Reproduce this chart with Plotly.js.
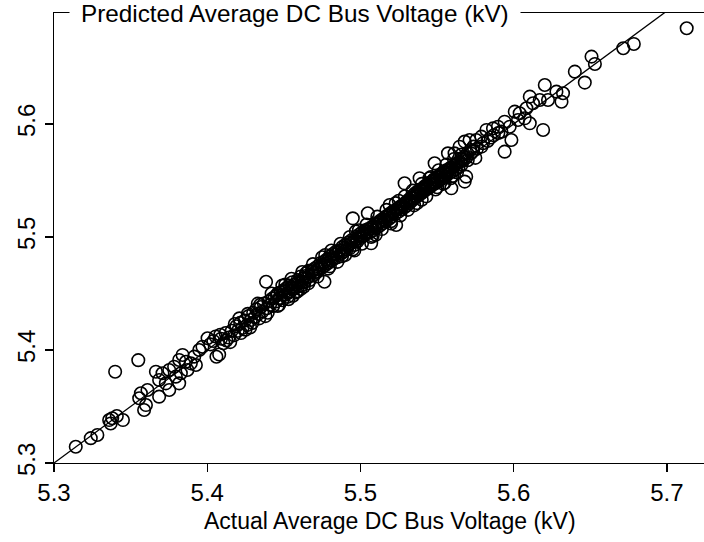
<!DOCTYPE html>
<html>
<head>
<meta charset="utf-8">
<script src="https://cdn.plot.ly/plotly-3.0.1.min.js"></script>
<style>html,body{margin:0;padding:0;background:#fff;}#chart{width:704px;height:542px;}</style>
</head>
<body>
<div id="chart"></div>
<script>
// Actual average DC bus voltage (kV)
const actual = [
5.3142,5.3240,5.3283,5.3370,5.3380,5.3410,5.3450,5.3360,5.3399,
5.3550,5.3567,5.3556,5.3600,5.3588,5.3610,5.3686,5.3665,5.3708,5.3752,5.3784,5.3817,5.3839,5.3861,5.3893,5.3915,5.3948,5.3969,5.4002,5.3686,5.3730,5.3795,5.3828,5.3871,5.3926,5.3752,5.3817,5.4060,
5.4020,5.4040,5.4055,5.4078,5.4090,5.4105,5.4120,5.4140,5.4160,5.4175,5.4190,5.4200,5.4215,5.4230,5.4245,5.4260,5.4270,5.4285,5.4300,5.4310,5.4320,5.4335,5.4350,5.4360,5.4370,5.4384,5.4390,5.4400,5.4410,5.4425,5.4430,5.4150,5.4250,5.4340,
5.4440,5.4450,5.4460,5.4470,5.4480,5.4490,5.4500,5.4510,5.4520,5.4525,5.4535,5.4545,5.4555,5.4560,5.4570,5.4580,5.4590,5.4600,5.4610,5.4615,5.4625,5.4635,5.4645,5.4650,5.4660,5.4670,5.4680,5.4690,5.4700,5.4470,5.4560,5.4630,
5.4710,5.4720,5.4730,5.4740,5.4750,5.4760,5.4765,5.4770,5.4780,5.4790,5.4800,5.4810,5.4820,5.4830,5.4840,5.4850,5.4860,5.4870,5.4880,5.4890,5.4900,5.4910,5.4920,5.4930,5.4940,5.4950,5.4960,5.4970,5.4980,5.4990,5.4800,5.4880,5.4950,
5.5000,5.5010,5.5020,5.5030,5.5040,5.5048,5.5050,5.5060,5.5070,5.5075,5.5085,5.5095,5.5105,5.5115,5.5125,5.5135,5.5145,5.5155,5.5165,5.5175,5.5190,5.5185,5.5195,5.5205,5.5215,5.5225,5.5233,5.5240,5.5250,5.5260,5.5270,5.5280,5.5288,5.5290,5.5100,5.5200,
5.5300,5.5305,5.5315,5.5320,5.5330,5.5335,5.5345,5.5350,5.5360,5.5365,5.5375,5.5380,5.5386,5.5390,5.5395,5.5405,5.5410,5.5420,5.5425,5.5435,5.5440,5.5450,5.5455,5.5465,5.5470,5.5480,5.5484,5.5490,5.5500,5.5505,5.5515,5.5520,5.5530,5.5535,5.5545,5.5550,5.5560,5.5565,5.5571,5.5575,5.5580,5.5590,5.5593,5.5600,5.5610,5.5614,5.5620,5.5630,5.5640,5.5647,5.5650,5.5660,5.5670,5.5680,5.5680,5.5690,5.5690,5.5700,5.5712,5.5400,5.5500,5.5600,
5.5722,5.5735,5.5756,5.5760,5.5789,5.5790,5.5800,5.5822,5.5830,5.5850,5.5865,5.5870,5.5897,5.5900,5.5920,5.5941,5.5941,5.5974,5.5985,5.5750,
5.6007,5.6028,5.6039,5.6072,5.6083,5.6105,5.6105,5.6126,5.6170,5.6192,5.6203,5.6224,5.6279,5.6312,5.6322,5.6399,5.6464,
5.6508,5.6530,5.6715,5.6784,5.7129,
5.4210,5.4280,5.4330,5.4380,5.4420,5.4460,5.4490,5.4530,5.4550,5.4590,5.4620,5.4660,5.4690,5.4720,5.4750,5.4790,5.4810,5.4850,5.4870,5.4900,5.4930,5.4960,5.4990,5.5010,5.5040,5.5080,5.5110,5.5140,5.5170,5.5200,5.5230,5.5260,5.5290,5.5310,5.5340,5.5370,5.5400,5.5430,5.5460,5.5490,5.5510,5.5540,5.5560,5.5590,5.5610,5.5630,5.5660,5.5250,5.5350,5.5450,5.5550,5.4970,5.5070,5.4770,5.4610,5.4510,
5.4455,5.4475,5.4505,5.4528,5.4548,5.4575,5.4595,5.4618,5.4640,5.4665,5.4685,5.4705,5.4725,5.4745,5.4772,5.4795,5.4815,5.4838,5.4858,5.4878,5.4898,5.4918,5.4938,5.4958,5.4978,5.5005,5.5025,5.5045,5.5068,5.5090,5.5112,5.5132,5.5152,5.5172,5.5192,5.5212,5.5232,5.5255,5.5275,5.5295,5.5318,5.5338,5.5358,5.5378,5.5398,5.5418,5.5438,5.5458,5.5478,5.5498,5.5518,5.5538,5.5558,5.5578,5.5598,5.5618,5.5638,5.5658,5.5678,5.5698,5.5718,5.5738,
5.4085,5.4125,5.4180,5.4220,5.4265,5.4295,5.4345,5.4395
];
// Predicted average DC bus voltage (kV)
const predicted = [
5.3144,5.3220,5.3248,5.3350,5.3396,5.3416,5.3380,5.3380,5.3808,
5.3910,5.3617,5.3573,5.3513,5.3469,5.3646,5.3587,5.3808,5.3794,5.3823,5.3852,5.3912,5.3956,5.3896,5.3882,5.3941,5.4000,5.4029,5.4104,5.3735,5.3705,5.3764,5.3794,5.3823,5.3867,5.3646,5.3705,5.3940,
5.4050,5.4080,5.4120,5.3960,5.4100,5.4060,5.4150,5.4110,5.4170,5.4130,5.4210,5.4170,5.4240,5.4195,5.4260,5.4220,5.4300,5.4265,5.4330,5.4290,5.4360,5.4320,5.4380,5.4340,5.4410,5.4604,5.4370,5.4430,5.4400,5.4455,5.4390,5.4070,5.4180,5.4280,
5.4470,5.4430,5.4500,5.4460,5.4510,5.4440,5.4530,5.4490,5.4550,5.4470,5.4570,5.4520,5.4600,5.4540,5.4580,5.4510,5.4620,5.4590,5.4650,5.4570,5.4630,5.4600,5.4680,5.4640,5.4700,5.4620,5.4690,5.4660,5.4720,5.4400,5.4480,5.4560,
5.4690,5.4740,5.4710,5.4770,5.4730,5.4780,5.4604,5.4750,5.4800,5.4770,5.4830,5.4790,5.4850,5.4810,5.4870,5.4820,5.4880,5.4850,5.4910,5.4870,5.4930,5.4890,5.4950,5.4900,5.4970,5.5165,5.4930,5.5000,5.4960,5.5020,5.4740,5.4830,5.4890,
5.4990,5.5040,5.5010,5.5060,5.5030,5.5210,5.5070,5.5040,5.4944,5.5090,5.5060,5.5110,5.5080,5.5130,5.5100,5.5150,5.5120,5.5170,5.5140,5.5190,5.5283,5.5160,5.5210,5.5180,5.5230,5.5200,5.5106,5.5250,5.5225,5.5270,5.5245,5.5290,5.5475,5.5265,5.5020,5.5140,
5.5310,5.5280,5.5330,5.5300,5.5350,5.5320,5.5370,5.5340,5.5390,5.5355,5.5400,5.5370,5.5520,5.5420,5.5385,5.5430,5.5400,5.5450,5.5415,5.5460,5.5430,5.5480,5.5445,5.5490,5.5460,5.5510,5.5652,5.5475,5.5530,5.5490,5.5545,5.5505,5.5560,5.5520,5.5575,5.5535,5.5590,5.5550,5.5740,5.5600,5.5565,5.5615,5.5431,5.5580,5.5630,5.5740,5.5600,5.5650,5.5620,5.5799,5.5665,5.5640,5.5680,5.5490,5.5844,5.5534,5.5700,5.5680,5.5858,5.5330,5.5440,5.5540,
5.5740,5.5760,5.5858,5.5780,5.5888,5.5800,5.5830,5.5947,5.5850,5.5880,5.5961,5.5900,5.5976,5.5920,5.5932,5.6020,5.5755,5.5976,5.5858,5.5700,
5.6109,5.6035,5.6095,5.6050,5.6139,5.6006,5.6242,5.6183,5.6212,5.5947,5.6345,5.6212,5.6286,5.6197,5.6272,5.6463,5.6366,
5.6596,5.6531,5.6670,5.6708,5.6847,
5.4280,5.4200,5.4410,5.4300,5.4500,5.4390,5.4570,5.4450,5.4630,5.4520,5.4690,5.4590,5.4760,5.4650,5.4820,5.4720,5.4880,5.4780,5.4940,5.4840,5.5000,5.4880,5.5060,5.4940,5.5110,5.5010,5.5180,5.5070,5.5240,5.5120,5.5300,5.5190,5.5360,5.5240,5.5410,5.5300,5.5470,5.5360,5.5530,5.5420,5.5590,5.5470,5.5640,5.5520,5.5690,5.5570,5.5730,5.5320,5.5280,5.5520,5.5480,5.5050,5.5000,5.4840,5.4540,5.4580,
5.4485,5.4455,5.4515,5.4505,5.4560,5.4550,5.4605,5.4600,5.4655,5.4650,5.4705,5.4690,5.4720,5.4750,5.4765,5.4805,5.4820,5.4845,5.4865,5.4880,5.4905,5.4920,5.4945,5.4960,5.4985,5.5010,5.5030,5.5050,5.5070,5.5095,5.5115,5.5135,5.5155,5.5175,5.5195,5.5215,5.5235,5.5255,5.5275,5.5300,5.5320,5.5345,5.5365,5.5385,5.5405,5.5425,5.5445,5.5465,5.5490,5.5510,5.5530,5.5550,5.5570,5.5590,5.5610,5.5640,5.5660,5.5690,5.5710,5.5740,5.5770,5.5800,
5.4135,5.4085,5.4230,5.4150,5.4320,5.4240,5.4400,5.4330
];
const tickValues = [5.3, 5.4, 5.5, 5.6, 5.7];
const tickLabels = ["5.3", "5.4", "5.5", "5.6", "5.7"];
const identityLine = [5.3, 5.8];
const xTitle = "Actual Average DC Bus Voltage (kV)";
const yTitle = "Predicted Average DC Bus Voltage (kV)";

const font = "Liberation Sans, Arial, Helvetica, sans-serif";

const traces = [
  {
    x: actual, y: predicted, type: "scatter", mode: "markers",
    marker: {symbol: "circle-open", size: 12.5, color: "#000", line: {width: 1.6, color: "#000"}},
    hoverinfo: "none", cliponaxis: true
  },
  {
    x: identityLine, y: identityLine, type: "scatter", mode: "lines",
    line: {color: "#000", width: 1.3}, hoverinfo: "none"
  }
];

const layout = {
  width: 704, height: 542,
  margin: {l: 54, r: 0, t: 13, b: 79, pad: 0},
  paper_bgcolor: "#fff", plot_bgcolor: "#fff",
  showlegend: false,
  font: {family: font, color: "#000", size: 24},
  xaxis: {
    range: [5.3, 5.7242], autorange: false,
    tickvals: tickValues, ticktext: tickLabels,
    ticks: "outside", ticklen: 8, tickwidth: 1.3, tickcolor: "#000",
    showline: true, linewidth: 1.3, linecolor: "#000", mirror: true,
    showgrid: false, zeroline: false,
    tickfont: {family: font, size: 24, color: "#000"}
  },
  yaxis: {
    range: [5.3, 5.6982], autorange: false,
    tickvals: tickValues, ticktext: tickLabels,
    ticks: "outside", ticklen: 8, tickwidth: 1.3, tickcolor: "#000",
    showline: true, linewidth: 1.3, linecolor: "#000",
    showgrid: false, zeroline: false, tickangle: -90,
    tickfont: {family: font, size: 24, color: "#000"}
  },
  annotations: [
    {
      text: yTitle, xref: "paper", yref: "paper", x: 0.0231, y: 1,
      xanchor: "left", yanchor: "middle", showarrow: false,
      bgcolor: "#fff", borderpad: 11,
      font: {family: font, size: 24.3, color: "#000"}
    },
    {
      text: xTitle, xref: "paper", yref: "paper", x: 0.517, y: -0.129,
      xanchor: "center", yanchor: "middle", showarrow: false,
      font: {family: font, size: 23, color: "#000"}
    }
  ]
};

Plotly.newPlot("chart", traces, layout, {staticPlot: true, displayModeBar: false});
</script>
</body>
</html>
